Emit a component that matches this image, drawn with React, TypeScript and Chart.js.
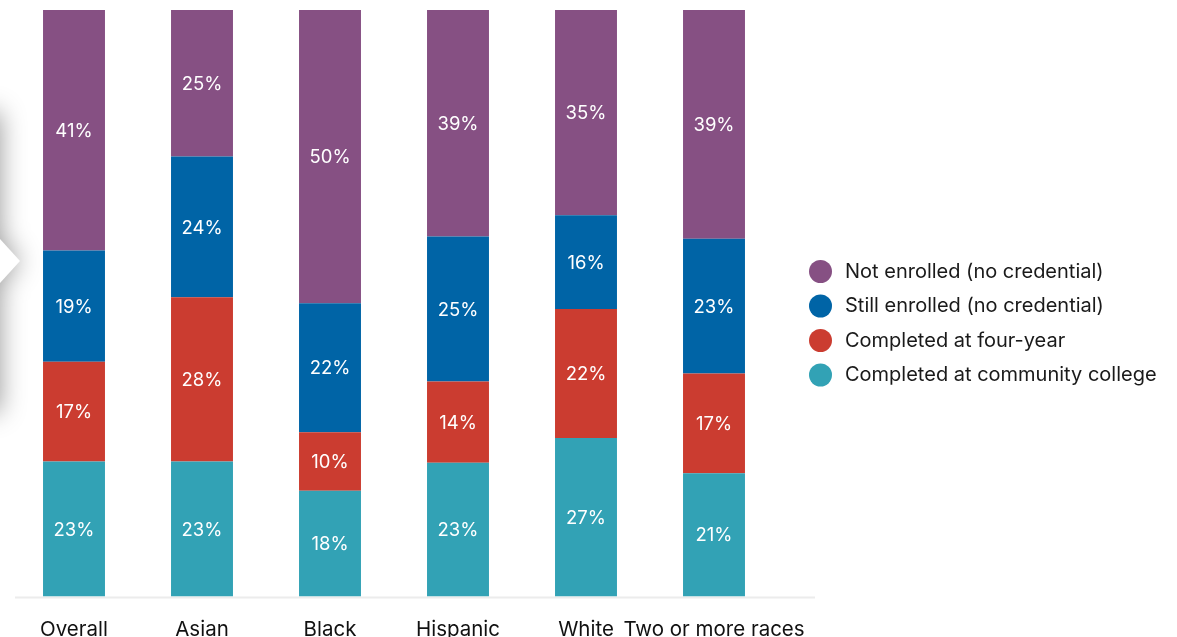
import React, { useEffect, useRef } from "react";
import { Chart, registerables } from "chart.js";

Chart.register(...registerables);

const categories = ["Overall", "Asian", "Black", "Hispanic", "White", "Two or more races"];
const notEnrolled = [41, 25, 50, 39, 35, 39];
const stillEnrolled = [19, 24, 22, 25, 16, 23];
const completedFourYear = [17, 28, 10, 14, 22, 17];
const completedCommunity = [23, 23, 18, 23, 27, 21];

const seriesNames = [
  "Completed at community college",
  "Completed at four-year",
  "Still enrolled (no credential)",
  "Not enrolled (no credential)",
];
const seriesColors = ["#32A2B5", "#CB3C30", "#0064A6", "#865083"];

const FONT = "Inter, 'Liberation Sans', sans-serif";
const CANVAS_H = 655;

export default function App() {
  const ref = useRef<HTMLCanvasElement | null>(null);

  useEffect(() => {
    if (!ref.current) return;
    const raw = [completedCommunity, completedFourYear, stillEnrolled, notEnrolled];
    const totals = categories.map((_, i) => raw.reduce((s, arr) => s + arr[i], 0));
    const datasets = raw.map((arr, d) => ({
      label: seriesNames[d],
      data: arr.map((v, i) => (v / totals[i]) * 100),
      backgroundColor: seriesColors[d],
      borderWidth: 0,
      categoryPercentage: 1,
      barPercentage: 0.484,
    }));

    const labelsPlugin = {
      id: "segLabels",
      afterDatasetsDraw(chart: any) {
        const ctx = chart.ctx;
        ctx.save();
        ctx.fillStyle = "#ffffff";
        ctx.font = `18.5px ${FONT}`;
        ctx.textAlign = "center";
        ctx.textBaseline = "middle";
        chart.data.datasets.forEach((_: any, d: number) => {
          const meta = chart.getDatasetMeta(d);
          meta.data.forEach((el: any, i: number) => {
            const cy = (el.y + el.base) / 2 + 1;
            ctx.fillText(`${raw[d][i]}%`, el.x, cy);
          });
        });
        ctx.restore();
      },
    };

    const axisLinePlugin = {
      id: "axisLine",
      beforeDatasetsDraw(chart: any) {
        const ctx = chart.ctx;
        const y = chart.scales.y.getPixelForValue(0) + 1;
        ctx.save();
        ctx.strokeStyle = "#ececec";
        ctx.lineWidth = 2;
        ctx.beginPath();
        ctx.moveTo(15, y);
        ctx.lineTo(815, y);
        ctx.stroke();
        ctx.restore();
      },
    };

    const legendPlugin = {
      id: "customLegend",
      afterDraw(chart: any) {
        const ctx = chart.ctx;
        ctx.save();
        ctx.font = `20px ${FONT}`;
        ctx.textBaseline = "middle";
        ctx.textAlign = "left";
        const order = [3, 2, 1, 0];
        order.forEach((d, k) => {
          const y = 271.5 + k * 34.5;
          ctx.fillStyle = seriesColors[d];
          ctx.beginPath();
          ctx.arc(820.5, y, 11.5, 0, Math.PI * 2);
          ctx.fill();
          ctx.fillStyle = "#1a1a1a";
          ctx.fillText(seriesNames[d], 845, y);
        });
        ctx.restore();
      },
    };

    const chart = new Chart(ref.current, {
      type: "bar",
      data: { labels: categories, datasets },
      options: {
        animation: false,
        responsive: false,
        maintainAspectRatio: false,
        layout: { padding: { left: 10, right: 399, top: 10, bottom: 0 } },
        plugins: { legend: { display: false }, tooltip: { enabled: false } },
        scales: {
          x: {
            stacked: true,
            grid: { display: false },
            border: { display: false },
            ticks: { color: "#111111", font: { family: FONT, size: 20.5 }, padding: 13, maxRotation: 0, autoSkip: false },
          },
          y: { stacked: true, min: 0, max: 100, display: false },
        },
      },
      plugins: [labelsPlugin, axisLinePlugin, legendPlugin],
    });
    return () => chart.destroy();
  }, []);

  return (
    <div style={{ position: "fixed", left: 0, top: 0, width: 1177, height: 637, background: "#fff", overflow: "hidden" }}>
      <div
        style={{
          position: "absolute",
          left: -300,
          top: 112,
          width: 300,
          height: 300,
          filter: "drop-shadow(0 0 13px rgba(0,0,0,0.4))",
        }}
      >
        <div style={{ position: "absolute", left: 0, top: 0, width: 300, height: 300, background: "#fff" }} />
        <div
          style={{
            position: "absolute",
            left: 300,
            top: 127,
            width: 0,
            height: 0,
            borderTop: "22px solid transparent",
            borderBottom: "22px solid transparent",
            borderLeft: "20px solid #fff",
          }}
        />
      </div>
      <canvas ref={ref} width={1177} height={CANVAS_H} style={{ position: "absolute", left: 0, top: 0, width: 1177, height: CANVAS_H }} />
    </div>
  );
}
